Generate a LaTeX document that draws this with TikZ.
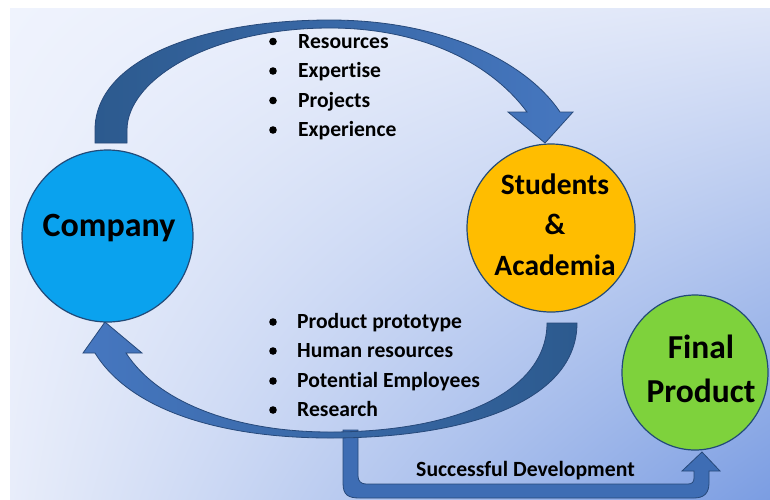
\documentclass[tikz,border=0pt]{standalone}
\usepackage{fontspec}
\setmainfont[Ligatures=NoCommon]{Carlito}
\usetikzlibrary{shapes.geometric,shadings}
\definecolor{bgUL}{HTML}{EFF3FD}
\definecolor{bgUR}{HTML}{DFE6F8}
\definecolor{bgLL}{HTML}{E8EDFA}
\definecolor{bgLR}{HTML}{7B9DE2}
\definecolor{arrDark}{HTML}{2C5A8E}
\definecolor{arrLight}{HTML}{4677C0}
\definecolor{arrEdge}{HTML}{27497A}
\definecolor{connFill}{HTML}{3E6DB4}
\definecolor{compFill}{HTML}{0AA2EE}
\definecolor{studFill}{HTML}{FFBD00}
\definecolor{finFill}{HTML}{7ED23C}
\definecolor{circEdge}{HTML}{224A78}
\tikzset{
  circ/.style={ellipse, draw=circEdge, line width=1.2pt, inner sep=0pt},
  bigtext/.style={font=\bfseries, text=black, inner sep=0pt, align=center},
  itemtext/.style={font=\fontsize{21.6}{25}\selectfont\bfseries, text=black, inner sep=0pt, anchor=base west},
  bulletdot/.style={fill=black},
  arrowbody/.style={draw=arrEdge, line width=0.8pt}
}
\begin{document}
\begin{tikzpicture}[x=1pt,y=-1pt]
\useasboundingbox (0,0) rectangle (770,499);
\fill[white] (0,0) rectangle (770,499);
\shade[upper left=bgUL, upper right=bgUR, lower left=bgLL, lower right=bgLR] (10,8) rectangle (770,499);

% successful development connector
\path[fill=connFill, arrowbody] (343,430) -- (343,483) .. controls (343,495) and (348,498) .. (360,498) -- (694,498) .. controls (704,498) and (709,493) .. (709,483) -- (709,471) -- (720,471) -- (702,452) -- (682,471) -- (694,471) -- (694,478) .. controls (694,482) and (692,484) .. (688,484) -- (366,484) .. controls (361,484) and (358,481) .. (358,476) -- (358,430) -- cycle;

% top curved arrow
\path[arrowbody, left color=arrDark, right color=arrLight] (95,143) -- (95,130) .. controls (95,60) and (200,20) .. (330,20) .. controls (440,20) and (525,60) .. (560,112) -- (573,112) -- (545,143) -- (508,112) -- (527,112) .. controls (490,62) and (420,28) .. (330,28) .. controls (210,28) and (127,80) .. (127,130) -- (127,143) -- cycle;

% bottom curved arrow
\path[arrowbody, left color=arrLight, right color=arrDark] (547,323) -- (577,323) .. controls (577,400) and (470,438) .. (330,438) .. controls (220,438) and (130,410) .. (95,353) -- (83,353) -- (105,322) -- (142,353) -- (126,353) .. controls (160,405) and (240,432) .. (330,432) .. controls (460,432) and (547,390) .. (547,323) -- cycle;

% circles
\node[circ, fill=compFill, minimum width=171pt, minimum height=172pt] (company) at (107.5,236) {};
\node[circ, fill=studFill, minimum width=168pt, minimum height=168pt] (students) at (551,228) {};
\node[circ, fill=finFill, minimum width=146pt, minimum height=155pt] (final) at (695,372.5) {};

\node[bigtext, font=\fontsize{34}{40}\selectfont\bfseries, anchor=base] (companylabel) at (109,236) {Company};
\node[bigtext, font=\fontsize{29.5}{40.5}\selectfont\bfseries, anchor=base] (studentslabel) at (555,275.3) {Students\\\&\\Academia};
\node[bigtext, font=\fontsize{33.5}{44}\selectfont\bfseries, anchor=base] (finallabel) at (701,402.6) {Final\\Product};

% top list
\fill[bulletdot] (273,41.5) circle[radius=3.8pt];
\fill[bulletdot] (273,71) circle[radius=3.8pt];
\fill[bulletdot] (273,100.5) circle[radius=3.8pt];
\fill[bulletdot] (273,130) circle[radius=3.8pt];
\node[itemtext] (t1) at (298,48.3) {Resources};
\node[itemtext] (t2) at (298,77.8) {Expertise};
\node[itemtext] (t3) at (298,107.3) {Projects};
\node[itemtext] (t4) at (298,136.8) {Experience};

% bottom list
\fill[bulletdot] (273,322) circle[radius=3.8pt];
\fill[bulletdot] (273,351) circle[radius=3.8pt];
\fill[bulletdot] (273,381) circle[radius=3.8pt];
\fill[bulletdot] (273,410) circle[radius=3.8pt];
\node[itemtext] (b1) at (297,328.8) {Product prototype};
\node[itemtext] (b2) at (297,357.8) {Human resources};
\node[itemtext] (b3) at (297,387.8) {Potential Employees};
\node[itemtext] (b4) at (297,416.8) {Research};

\node[itemtext, anchor=base, font=\fontsize{21.7}{25}\selectfont\bfseries] (devlabel) at (525.5,476) {Successful Development};
\end{tikzpicture}
\end{document}
